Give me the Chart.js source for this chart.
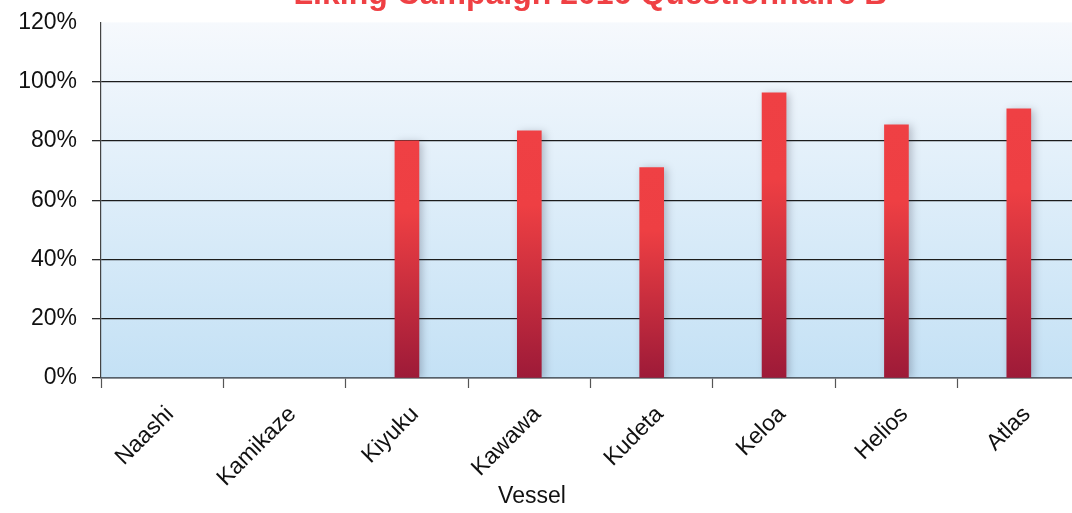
<!DOCTYPE html>
<html>
<head>
<meta charset="utf-8">
<script src="https://cdn.jsdelivr.net/npm/chart.js@4/dist/chart.umd.min.js"></script>
<style>
  html, body { margin: 0; padding: 0; background: #ffffff; overflow: hidden; }
  #wrap { position: absolute; left: 0; top: -24px; width: 1080px; height: 537px; }
</style>
</head>
<body>
<div id="wrap"><canvas id="chart" width="1080" height="537"></canvas></div>
<script>
// Share of positive answers per vessel
const vessels = ['Naashi', 'Kamikaze', 'Kiyuku', 'Kawawa', 'Kudeta', 'Keloa', 'Helios', 'Atlas'];
const likingShare = [null, null, 80, 83.4, 71, 96.2, 85.4, 90.8];
const yTicks = [0, 20, 40, 60, 80, 100, 120];

const FONT = '"Liberation Sans", Arial, sans-serif';

// plot-area background: pale blue fading to white at the top
const plotBackground = {
  id: 'plotBackground',
  beforeDraw(chart) {
    const { ctx, chartArea: a } = chart;
    if (!a) return;
    const g = ctx.createLinearGradient(0, a.top, 0, a.bottom);
    g.addColorStop(0, '#f6f9fd');
    g.addColorStop(1, '#c4e1f5');
    ctx.save();
    ctx.fillStyle = g;
    ctx.fillRect(a.left, a.top, a.right - a.left, a.bottom - a.top);
    ctx.restore();
  }
};

// soft drop shadow behind the bars
const barShadow = {
  id: 'barShadow',
  beforeDatasetDraw(chart) {
    const ctx = chart.ctx;
    ctx.save();
    ctx.shadowColor = 'rgba(40,40,60,0.28)';
    ctx.shadowBlur = 8;
    ctx.shadowOffsetX = 3;
    ctx.shadowOffsetY = 1;
  },
  afterDatasetDraw(chart) {
    chart.ctx.restore();
  }
};

// x axis caption
const axisCaption = {
  id: 'axisCaption',
  afterDraw(chart) {
    const ctx = chart.ctx;
    ctx.save();
    ctx.font = '23px ' + FONT;
    ctx.fillStyle = '#111111';
    ctx.textAlign = 'center';
    ctx.textBaseline = 'middle';
    ctx.fillText('Vessel', chart.width / 2 - 8, 521);
    ctx.restore();
  }
};

function barFill(context) {
  const chart = context.chart;
  const v = context.raw;
  const y = chart.scales && chart.scales.y;
  if (!chart.chartArea || !y || v == null) return '#ef4044';
  const top = y.getPixelForValue(v);
  const bottom = y.getPixelForValue(0);
  const g = chart.ctx.createLinearGradient(0, top, 0, bottom);
  g.addColorStop(0, '#ef4044');
  g.addColorStop(0.3, '#ee3f43');
  g.addColorStop(1, '#9d1a38');
  return g;
}

new Chart(document.getElementById('chart'), {
  type: 'bar',
  data: {
    labels: vessels,
    datasets: [{
      label: 'Liking',
      data: likingShare,
      backgroundColor: barFill,
      borderWidth: 0,
      barThickness: 24
    }]
  },
  plugins: [plotBackground, barShadow, axisCaption],
  options: {
    responsive: false,
    animation: false,
    layout: { padding: { left: 0, right: 0, top: 0, bottom: 0 } },
    plugins: {
      legend: { display: false },
      tooltip: { enabled: false },
      title: {
        display: true,
        text: 'Liking Campaign 2016 Questionnaire B',
        color: '#ef4044',
        fullSize: false,
        font: { family: FONT, size: 32, weight: 'bold' },
        padding: { top: 0, bottom: 8 }
      }
    },
    scales: {
      x: {
        offset: true,
        grid: {
          offset: true,
          drawOnChartArea: false,
          drawTicks: true,
          tickLength: 10,
          tickColor: '#555555',
          tickWidth: 1.2
        },
        border: { display: true, color: '#56606a', width: 1.6 },
        ticks: {
          minRotation: 45,
          maxRotation: 45,
          color: '#111111',
          padding: 13,
          labelOffset: 8,
          font: { family: FONT, size: 23 }
        },
        afterFit(scale) { scale.height = 135; }
      },
      y: {
        min: 0,
        max: 120,
        afterBuildTicks(scale) { scale.ticks = yTicks.map(v => ({ value: v })); },
        grid: {
          color: c => (c.tick && c.tick.value === 120) ? 'rgba(0,0,0,0)' : '#1c1c1c',
          tickColor: c => (c.tick && c.tick.value === 120) ? 'rgba(0,0,0,0)' : '#2a2a2a',
          lineWidth: 1.3,
          tickLength: 9
        },
        border: { display: true, color: '#444444', width: 1.2 },
        ticks: {
          color: '#111111',
          padding: 15,
          font: { family: FONT, size: 23 },
          callback: v => v + '%'
        },
        afterFit(scale) { scale.width = 101; }
      }
    }
  }
});
</script>
</body>
</html>
